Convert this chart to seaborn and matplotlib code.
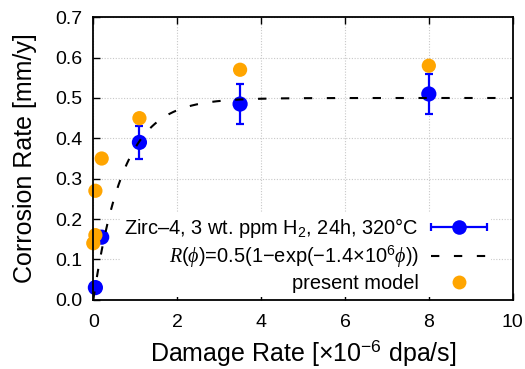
import numpy as np
import pandas as pd
import matplotlib
matplotlib.use("Agg")
import matplotlib.pyplot as plt
import seaborn as sns
from matplotlib.legend_handler import HandlerErrorbar
from matplotlib.ticker import FormatStrFormatter, MultipleLocator

# measured corrosion rate (Zirc-4, 3 wt. ppm H2, 24h, 320C)
exp_rate = [0.05, 0.2, 1.1, 3.5, 8.0]        # x1e-6 dpa/s
exp_corr = [0.03, 0.155, 0.39, 0.485, 0.51]  # mm/y
exp_err = [0.0, 0.01, 0.04, 0.05, 0.05]

# present model
model_rate = [0.0, 0.05, 0.05, 0.2, 1.1, 3.5, 8.0]
model_corr = [0.14, 0.16, 0.27, 0.35, 0.45, 0.57, 0.58]

# fit R(phi) = 0.5(1-exp(-1.4e6 phi))
fit_amp = 0.5
fit_k = 1.4

sns.set_theme(style="ticks")
plt.rcParams["font.family"] = ["Liberation Sans", "DejaVu Sans"]
plt.rcParams["mathtext.fontset"] = "custom"
plt.rcParams["mathtext.rm"] = "Liberation Sans"
plt.rcParams["mathtext.it"] = "Liberation Serif:italic"
plt.rcParams["mathtext.fallback"] = "stix"
for k in ["text.color", "axes.labelcolor", "xtick.color", "ytick.color"]:
    plt.rcParams[k] = "black"

df_exp = pd.DataFrame({"rate": exp_rate, "corr": exp_corr, "err": exp_err})
df_mod = pd.DataFrame({"rate": model_rate, "corr": model_corr})
phi = np.linspace(0, 10, 300)
df_fit = pd.DataFrame({"rate": phi, "corr": fit_amp * (1 - np.exp(-fit_k * phi))})

fig = plt.figure(figsize=(5.25, 3.69), dpi=100)
ax = fig.add_axes([0.1777, 0.1878, 0.7989, 0.7653])

ax.grid(True, color="#c8c8c8", linestyle=(0, (1, 1.5)), linewidth=0.8)
ax.set_axisbelow(True)

ax.errorbar(df_exp["rate"], df_exp["corr"], yerr=df_exp["err"], fmt="none",
            ecolor="blue", elinewidth=1.6, capsize=3, capthick=1.6, zorder=3)
sns.scatterplot(data=df_exp, x="rate", y="corr", ax=ax, color="blue", s=120,
                edgecolor="none", zorder=4, legend=False, clip_on=False)
sns.lineplot(data=df_fit, x="rate", y="corr", ax=ax, color="black", lw=1.5,
             dashes=False, zorder=5)
ax.lines[-1].set_dashes((4, 7))
sns.scatterplot(data=df_mod, x="rate", y="corr", ax=ax, color="orange", s=105,
                edgecolor="none", zorder=6, legend=False, clip_on=False)

# legend proxies
eb_proxy = ax.errorbar([np.nan], [np.nan], xerr=[1], fmt="o", color="blue", ms=10.5,
                       elinewidth=1.6, capsize=3, capthick=1.6, mec="none")
fit_proxy = plt.Line2D([], [], color="black", lw=1.5, dashes=(4, 7))
mod_proxy = plt.Line2D([], [], color="orange", marker="o", ms=10, ls="none", mec="none")

leg = ax.legend([eb_proxy, fit_proxy, mod_proxy],
                ["Zirc\u20134, 3 wt. ppm H$_2$, 24h, 320\u00b0C",
                 "$R(\\phi)$=0.5(1\u2212exp(\u22121.4\u00d710$^{6}\\phi$))",
                 "present model"],
                loc="lower right", bbox_to_anchor=(0.948, 0.008), markerfirst=False,
                fontsize=14.4, handlelength=2.8, handletextpad=0.6,
                labelspacing=0.2, borderpad=0.2, borderaxespad=0.0,
                frameon=True, facecolor="white", edgecolor="none", framealpha=1,
                handler_map={type(eb_proxy): HandlerErrorbar(xerr_size=1.4)})
leg.set_zorder(10)

ax.set_xlim(0, 10)
ax.set_ylim(0, 0.7)
ax.xaxis.set_major_locator(MultipleLocator(2))
ax.yaxis.set_major_locator(MultipleLocator(0.1))
ax.yaxis.set_major_formatter(FormatStrFormatter("%.1f"))
ax.tick_params(direction="in", length=5, width=1, colors="black", labelsize=14,
               top=True, right=False)
ax.tick_params(axis="x", pad=10)
ax.tick_params(axis="y", pad=8)
for s in ax.spines.values():
    s.set_linewidth(1.3)
    s.set_color("black")
    s.set_zorder(11)

ax.set_xlabel("Damage Rate [\u00d710$^{\u22126}$ dpa/s]", fontsize=18, labelpad=5)
ax.set_ylabel("Corrosion Rate [mm/y]", fontsize=18, labelpad=13)

fig.savefig("out.png", dpi=100)
